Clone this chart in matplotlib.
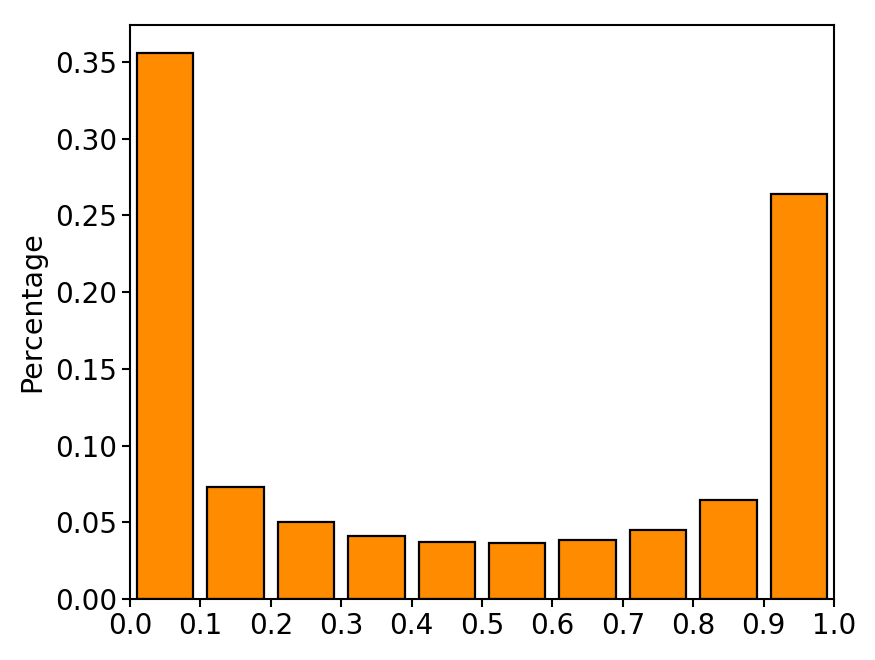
import numpy as np
import matplotlib.pyplot as plt

bin_edges = [0.0, 0.1, 0.2, 0.3, 0.4, 0.5, 0.6, 0.7, 0.8, 0.9, 1.0]
percentage = [0.356, 0.073, 0.050, 0.041, 0.037, 0.0365, 0.0385, 0.045, 0.0645, 0.264]
yticks = [0.00, 0.05, 0.10, 0.15, 0.20, 0.25, 0.30, 0.35]

centers = (np.array(bin_edges[:-1]) + np.array(bin_edges[1:])) / 2

fig = plt.figure(figsize=(8.75, 6.6), dpi=100)
ax = fig.add_axes([130 / 875, 61 / 660, 704 / 875, 574 / 660])

ax.bar(centers, percentage, width=0.08, color="darkorange",
       edgecolor="black", linewidth=1.6)

ax.set_xlim(0, 1)
ax.set_ylim(0, 0.374)
ax.set_xticks(bin_edges)
ax.set_yticks(yticks)
ax.set_xticklabels([f"{v:.1f}" for v in bin_edges])
ax.set_yticklabels([f"{v:.2f}" for v in yticks])
ax.tick_params(labelsize=20, width=1.5, length=6)
for s in ax.spines.values():
    s.set_linewidth(1.5)

ax.set_ylabel("Percentage", fontsize=20.5, labelpad=6)

fig.savefig("out.png", dpi=100)
